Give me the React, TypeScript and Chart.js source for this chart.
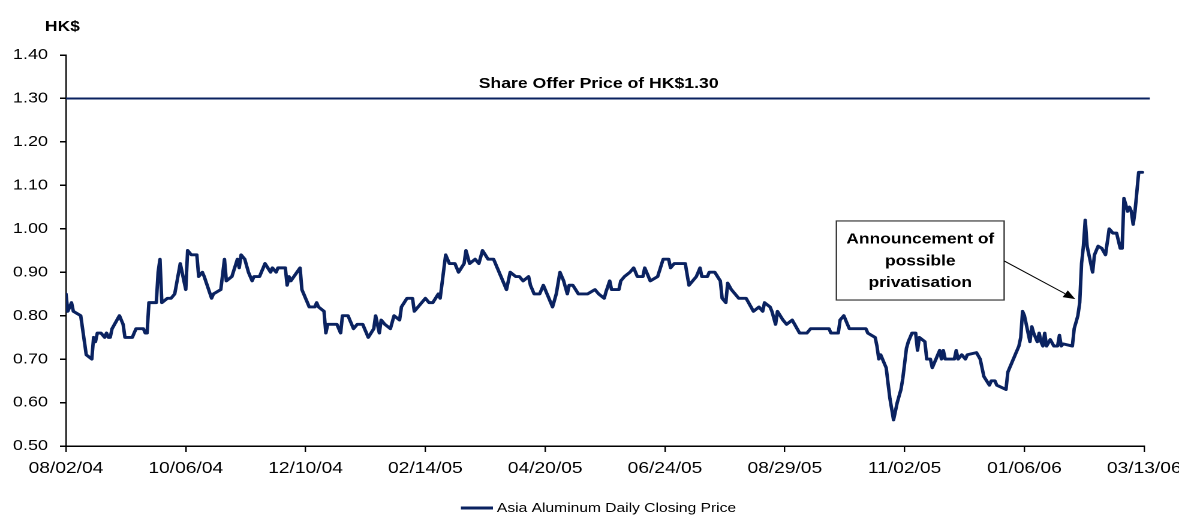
import React, { useEffect, useRef } from 'react';
import { Chart, registerables } from 'chart.js';

Chart.register(...registerables);

// ---- data (x = calendar days since 08/02/04, y = HK$ closing price) ----
const tickLabels = ['08/02/04', '10/06/04', '12/10/04', '02/14/05', '04/20/05', '06/24/05', '08/29/05', '11/02/05', '01/06/06', '03/13/06'];
const tickStepDays = 65;
const lastDay = 585;

const tradeDays = [
  0, 1, 3, 4, 8, 9, 10, 11, 14, 15, 16, 17, 19, 21, 22, 23, 24, 25, 29, 31,
  32, 36, 38, 42, 43, 44, 45, 49, 50, 51, 52, 55, 57, 59, 62, 65, 66, 68, 71, 72,
  74, 75, 79, 80, 84, 86, 87, 90, 93, 94, 95, 97, 99, 101, 102, 105, 106, 108, 111, 112,
  114, 115, 119, 120, 121, 122, 127, 128, 132, 135, 136, 137, 140, 141, 142, 147, 149, 150, 153, 156,
  158, 161, 164, 167, 168, 170, 171, 173, 176, 178, 181, 182, 185, 188, 189, 195, 197, 199, 202, 203,
  206, 208, 211, 213, 216, 217, 219, 222, 224, 226, 229, 232, 234, 237, 239, 241, 244, 246, 248, 251,
  252, 254, 257, 259, 261, 262, 264, 266, 268, 270, 272, 273, 275, 278, 283, 287, 289, 292, 293, 295,
  296, 300, 301, 303, 306, 308, 310, 313, 314, 317, 321, 324, 327, 328, 330, 336, 338, 340, 342, 344,
  345, 348, 349, 352, 355, 356, 358, 359, 361, 363, 365, 369, 373, 376, 378, 379, 382, 383, 385, 386,
  389, 391, 394, 396, 398, 402, 404, 414, 415, 419, 420, 422, 425, 434, 435, 439, 440, 441, 442, 443,
  445, 447, 449, 451, 453, 454, 456, 457, 459, 461, 462, 463, 466, 467, 469, 470, 472, 474, 475, 476,
  477, 482, 483, 484, 486, 488, 489, 494, 496, 498, 501, 502, 504, 505, 510, 511, 515, 517, 518, 519,
  520, 521, 523, 524, 525, 527, 528, 529, 530, 531, 532, 534, 536, 538, 539, 540, 541, 546, 547, 549,
  550, 551, 552, 553, 554, 556, 557, 558, 560, 562, 564, 566, 568, 570, 572, 573, 574, 576, 577, 578,
  579, 580, 581, 582, 584,
];

const closePrices = [
  0.85, 0.81, 0.83, 0.81, 0.80, 0.77, 0.74, 0.71, 0.70, 0.75, 0.74, 0.76, 0.76, 0.75, 0.76, 0.75, 0.75, 0.77, 0.80, 0.78,
  0.75, 0.75, 0.77, 0.77, 0.76, 0.76, 0.83, 0.83, 0.90, 0.93, 0.83, 0.84, 0.84, 0.85, 0.92, 0.86, 0.95, 0.94, 0.94, 0.89,
  0.90, 0.89, 0.84, 0.85, 0.86, 0.93, 0.88, 0.89, 0.93, 0.91, 0.94, 0.93, 0.90, 0.88, 0.89, 0.89, 0.90, 0.92, 0.90, 0.91,
  0.90, 0.91, 0.91, 0.87, 0.89, 0.88, 0.91, 0.86, 0.82, 0.82, 0.83, 0.82, 0.81, 0.76, 0.78, 0.78, 0.76, 0.80, 0.80, 0.77,
  0.78, 0.78, 0.75, 0.77, 0.80, 0.76, 0.79, 0.78, 0.77, 0.80, 0.79, 0.82, 0.84, 0.84, 0.81, 0.84, 0.83, 0.83, 0.85, 0.84,
  0.94, 0.92, 0.92, 0.90, 0.92, 0.95, 0.92, 0.93, 0.92, 0.95, 0.93, 0.93, 0.91, 0.88, 0.86, 0.90, 0.89, 0.89, 0.88, 0.89,
  0.87, 0.85, 0.85, 0.87, 0.85, 0.84, 0.82, 0.85, 0.90, 0.88, 0.85, 0.87, 0.87, 0.85, 0.85, 0.86, 0.85, 0.84, 0.855, 0.88,
  0.86, 0.86, 0.88, 0.89, 0.90, 0.91, 0.89, 0.89, 0.91, 0.88, 0.89, 0.93, 0.93, 0.91, 0.92, 0.92, 0.87, 0.88, 0.89, 0.91,
  0.89, 0.89, 0.90, 0.90, 0.88, 0.84, 0.83, 0.875, 0.86, 0.85, 0.84, 0.84, 0.81, 0.82, 0.81, 0.83, 0.82, 0.81, 0.78, 0.81,
  0.79, 0.78, 0.79, 0.775, 0.76, 0.76, 0.77, 0.77, 0.76, 0.76, 0.79, 0.80, 0.77, 0.77, 0.76, 0.75, 0.73, 0.70, 0.71, 0.70,
  0.68, 0.61, 0.56, 0.60, 0.63, 0.655, 0.725, 0.74, 0.76, 0.76, 0.72, 0.75, 0.74, 0.70, 0.70, 0.68, 0.70, 0.72, 0.70, 0.72,
  0.70, 0.70, 0.72, 0.70, 0.71, 0.70, 0.71, 0.715, 0.70, 0.66, 0.64, 0.65, 0.65, 0.64, 0.63, 0.67, 0.71, 0.73, 0.75, 0.81,
  0.80, 0.78, 0.74, 0.775, 0.76, 0.74, 0.76, 0.74, 0.73, 0.76, 0.73, 0.745, 0.73, 0.73, 0.755, 0.73, 0.735, 0.73, 0.77, 0.80,
  0.83, 0.92, 0.96, 1.02, 0.96, 0.92, 0.90, 0.94, 0.96, 0.955, 0.94, 1.00, 0.99, 0.99, 0.955, 0.955, 1.07, 1.04, 1.05, 1.04,
  1.01, 1.04, 1.085, 1.13, 1.13,
];

const yMin = 0.5;
const yMax = 1.4;
const yStep = 0.1;

const offerPrice = 1.3;
const offerLineEndDay = 588;
const offerLabel = 'Share Offer Price of HK$1.30';
const offerLabelDay = 289;
const offerLabelValue = 1.333;

const seriesLabel = 'Asia Aluminum Daily Closing Price';
const unitLabel = 'HK$';

const noteLines = ['Announcement of', 'possible', 'privatisation'];
const noteFromDay = 418;
const noteToDay = 509;
const noteTopValue = 1.018;
const noteBottomValue = 0.836;
const arrowFrom = { day: 509, value: 0.926 };
const arrowTo = { day: 547.6, value: 0.838 };

const NAVY = '#0a2260';
const FONT = '"Liberation Sans", Arial, Helvetica, sans-serif';

// the reference is horizontally stretched; draw on a narrower logical canvas and stretch it
const SCREEN_W = 1179;
const SCREEN_H = 515;
const STRETCH = 1.2;
const LOGICAL_W = Math.round(SCREEN_W / STRETCH);

const overlayPlugin = {
  id: 'overlay',
  afterDatasetsDraw(chart: any) {
    const { ctx, scales } = chart;
    const x = scales.x;
    const y = scales.y;
    ctx.save();

    // offer price caption
    ctx.fillStyle = '#000';
    ctx.font = `bold 14.7px ${FONT}`;
    ctx.textAlign = 'center';
    ctx.textBaseline = 'middle';
    ctx.fillText(offerLabel, x.getPixelForValue(offerLabelDay), y.getPixelForValue(offerLabelValue));

    // unit label above axis
    ctx.font = `bold 14.5px ${FONT}`;
    ctx.textAlign = 'left';
    ctx.fillText(unitLabel, 37.5, 27);

    // annotation box
    const bl = x.getPixelForValue(noteFromDay);
    const br = x.getPixelForValue(noteToDay);
    const bt = y.getPixelForValue(noteTopValue);
    const bb = y.getPixelForValue(noteBottomValue);
    ctx.fillStyle = '#fff';
    ctx.fillRect(bl, bt, br - bl, bb - bt);
    ctx.strokeStyle = '#3a3a3a';
    ctx.lineWidth = 1.2;
    ctx.strokeRect(bl, bt, br - bl, bb - bt);
    ctx.fillStyle = '#000';
    ctx.textAlign = 'center';
    ctx.font = `bold 14.5px ${FONT}`;
    const cx = (bl + br) / 2;
    noteLines.forEach((line, i) => {
      ctx.fillText(line, cx, bt + 18.5 + i * 21.8);
    });

    // arrow
    const ax0 = x.getPixelForValue(arrowFrom.day);
    const ay0 = y.getPixelForValue(arrowFrom.value);
    const ax1 = x.getPixelForValue(arrowTo.day);
    const ay1 = y.getPixelForValue(arrowTo.value);
    const ang = Math.atan2(ay1 - ay0, ax1 - ax0);
    const headLen = 10;
    const headW = 4;
    const hx = ax1 - headLen * Math.cos(ang);
    const hy = ay1 - headLen * Math.sin(ang);
    ctx.strokeStyle = '#000';
    ctx.lineWidth = 1;
    ctx.beginPath();
    ctx.moveTo(ax0, ay0);
    ctx.lineTo(hx, hy);
    ctx.stroke();
    ctx.beginPath();
    ctx.moveTo(ax1, ay1);
    ctx.lineTo(hx + headW * Math.sin(ang), hy - headW * Math.cos(ang));
    ctx.lineTo(hx - headW * Math.sin(ang), hy + headW * Math.cos(ang));
    ctx.closePath();
    ctx.fillStyle = '#000';
    ctx.fill();

    // legend
    ctx.font = `13px ${FONT}`;
    const textW = ctx.measureText(seriesLabel).width;
    const swatchW = 26.7;
    const gap = 3.3;
    const totalW = swatchW + gap + textW;
    const legendCenter = 499;
    const ly = 508;
    const lx = legendCenter - totalW / 2;
    ctx.strokeStyle = NAVY;
    ctx.lineWidth = 3;
    ctx.beginPath();
    ctx.moveTo(lx, ly);
    ctx.lineTo(lx + swatchW, ly);
    ctx.stroke();
    ctx.fillStyle = '#000';
    ctx.textAlign = 'left';
    ctx.textBaseline = 'middle';
    ctx.fillText(seriesLabel, lx + swatchW + gap, ly + 0.5);

    ctx.restore();
  },
};

export default function App() {
  const canvasRef = useRef<HTMLCanvasElement | null>(null);

  useEffect(() => {
    const canvas = canvasRef.current;
    if (!canvas) return;
    const priceData = tradeDays.map((d, i) => ({ x: d, y: closePrices[i] }));
    const offerData = [
      { x: 0, y: offerPrice },
      { x: offerLineEndDay, y: offerPrice },
    ];
    const chart = new Chart(canvas, {
      type: 'line',
      data: {
        datasets: [
          {
            label: seriesLabel,
            data: priceData,
            borderColor: NAVY,
            borderWidth: 2.9,
            pointRadius: 0,
            tension: 0,
            borderJoinStyle: 'round',
            borderCapStyle: 'round',
            order: 1,
          },
          {
            label: offerLabel,
            data: offerData,
            borderColor: NAVY,
            borderWidth: 2,
            pointRadius: 0,
            clip: false,
            order: 2,
          },
        ],
      },
      options: {
        responsive: false,
        devicePixelRatio: 2,
        animation: false,
        events: [],
        layout: { padding: { top: 55, right: 29, bottom: 0, left: 0 } },
        plugins: {
          legend: { display: false },
          tooltip: { enabled: false },
        },
        scales: {
          x: {
            type: 'linear',
            min: 0,
            max: lastDay,
            ticks: {
              stepSize: tickStepDays,
              autoSkip: false,
              maxRotation: 0,
              minRotation: 0,
              padding: 7,
              color: '#000',
              font: { family: FONT, size: 16 },
              callback: (v: any) => tickLabels[Math.round(Number(v) / tickStepDays)] ?? '',
            },
            grid: { drawOnChartArea: false, drawTicks: true, tickLength: 6, color: '#000', lineWidth: 1.2 },
            border: { display: true, color: '#000', width: 1.5 },
            afterFit: (s: any) => {
              s.height = 69;
              s.paddingLeft = 0;
              s.paddingRight = 0;
            },
          },
          y: {
            type: 'linear',
            min: yMin,
            max: yMax,
            ticks: {
              stepSize: yStep,
              padding: 10,
              color: '#000',
              font: { family: FONT, size: 15 },
              callback: (v: any) => Number(v).toFixed(2),
            },
            grid: { drawOnChartArea: false, drawTicks: true, tickLength: 5, color: '#000', lineWidth: 1.5 },
            border: { display: true, color: '#000', width: 1.2 },
            afterFit: (s: any) => {
              s.width = 55;
              s.paddingTop = 0;
              s.paddingBottom = 0;
            },
          },
        },
      } as any,
      plugins: [overlayPlugin],
    });
    return () => chart.destroy();
  }, []);

  return (
    <div style={{ position: 'fixed', left: 0, top: 0, width: SCREEN_W, height: SCREEN_H, background: '#fff' }}>
      <canvas
        ref={canvasRef}
        width={LOGICAL_W}
        height={SCREEN_H}
        style={{ width: `${SCREEN_W}px`, height: `${SCREEN_H}px`, display: 'block' }}
      />
    </div>
  );
}
